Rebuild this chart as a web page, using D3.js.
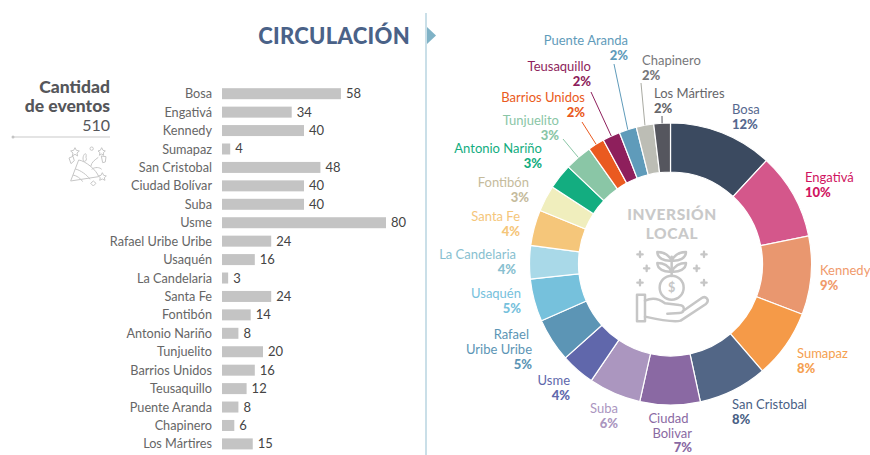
<!DOCTYPE html>
<html>
<head>
<meta charset="utf-8">
<script src="https://cdn.jsdelivr.net/npm/d3@7"></script>
<style>
html, body { margin: 0; padding: 0; background: #fff; }
svg { display: block; }
text { font-family: Lato, "Open Sans", sans-serif; }
</style>
</head>
<body>
<svg id="chart" width="870" height="455"></svg>
<script>
// bars: number of events per locality
const localities = ["Bosa", "Engativá", "Kennedy", "Sumapaz", "San Cristobal", "Ciudad Bolívar", "Suba", "Usme",
    "Rafael Uribe Uribe", "Usaquén", "La Candelaria", "Santa Fe", "Fontibón", "Antonio Nariño", "Tunjuelito",
    "Barrios Unidos", "Teusaquillo", "Puente Aranda", "Chapinero", "Los Mártires"];
const events = [58, 34, 40, 4, 48, 40, 40, 80, 24, 16, 3, 24, 14, 8, 20, 16, 12, 8, 6, 15];
const totalEvents = "510";

// donut: share of local investment, arc sizes
const shares = [11.9, 9.9, 9.0, 7.9, 7.9, 6.9, 6.0, 3.9, 5.0, 4.9, 3.8, 4.1, 3.0, 2.9, 3.1, 1.9, 2.0, 2.0, 2.0, 1.9];
const shareLabels = ["12%", "10%", "9%", "8%", "8%", "7%", "6%", "4%", "5%", "5%", "4%", "4%", "3%", "3%", "3%", "2%", "2%", "2%", "2%", "2%"];

const sliceColors = ["#3b4a60", "#d4578b", "#e9976f", "#f59a48", "#526686", "#8a69a3", "#ab96bf", "#6067ab",
    "#5c95b5", "#76c1dc", "#a9d9e8", "#f5c67a", "#f0eebd", "#13ad80", "#8ac6a6", "#ea5a20", "#8e1f5c", "#5f9bba", "#bcbdb5", "#55565e"];
const labelColors = ["#56688f", "#d0145f", "#f09a6c", "#f5a050", "#4a5f85", "#8a69a3", "#ab96bf", "#6067ab",
    "#5c95b5", "#76c1dc", "#88bfd0", "#f5c67a", "#c5bb9c", "#13ad80", "#8ac6a6", "#ea5a20", "#8e1f5c", "#5f9bba", "#77777a", "#66666a"];

// label placement: x, first baseline, anchor, text lines (some names wrap), optional leader end
const labelLayout = [
    { x: 732, y: 114, a: "start" },
    { x: 805, y: 182, a: "start" },
    { x: 820, y: 275, a: "start" },
    { x: 797, y: 358, a: "start" },
    { x: 732, y: 409, a: "start" },
    { x: 692, y: 423, a: "end", lines: ["Ciudad", "Bolivar"], shift: [-3.5, 0], step: 14.5 },
    { x: 618, y: 413, a: "end" },
    { x: 570, y: 385, a: "end" },
    { x: 532, y: 339, a: "end", lines: ["Rafael", "Uribe Uribe"], shift: [-3, 0] },
    { x: 521, y: 298, a: "end" },
    { x: 516, y: 259, a: "end" },
    { x: 520, y: 221, a: "end" },
    { x: 529, y: 187, a: "end" },
    { x: 542, y: 153, a: "end" },
    { x: 559, y: 125, a: "end", leader: [563, 139] },
    { x: 585, y: 102, a: "end", leader: [582, 122] },
    { x: 591, y: 71, a: "end", leader: [591, 92] },
    { x: 628, y: 45, a: "end", leader: [614, 64] },
    { x: 642, y: 65, a: "start", leader: [641, 83] },
    { x: 654, y: 98, a: "start", leader: [662, 116] }
];

const svg = d3.select("#chart");
const cx = 670.5, cy = 264, outerR = 141, innerR = 92;

// Title and divider
svg.append("line").attr("x1", 426).attr("x2", 426).attr("y1", 13).attr("y2", 455)
    .attr("stroke", "#b9d5e0").attr("stroke-width", 1.5);
svg.append("path").attr("d", "M427,27L436,35.5L427,44Z").attr("fill", "#7fb2c6");
svg.append("text").attr("x", 410).attr("y", 43.5).attr("text-anchor", "end")
    .attr("font-size", 22).attr("font-weight", 900).attr("letter-spacing", 0.3)
    .attr("fill", "#4a6288").text("CIRCULACIÓN");

// Total block
const total = svg.append("g").attr("text-anchor", "end");
total.append("text").attr("x", 110).attr("y", 93).attr("font-size", 17.5).attr("font-weight", 900).attr("fill", "#55565a").text("Cantidad");
total.append("text").attr("x", 110).attr("y", 112).attr("font-size", 17.5).attr("font-weight", 900).attr("fill", "#55565a").text("de eventos");
total.append("text").attr("x", 110).attr("y", 131).attr("font-size", 16).attr("fill", "#55565a").text(totalEvents);
svg.append("line").attr("x1", 13).attr("x2", 110).attr("y1", 137).attr("y2", 137).attr("stroke", "#c9c9c9").attr("stroke-width", 1);
svg.append("circle").attr("cx", 13).attr("cy", 137).attr("r", 1.5).attr("fill", "#c4c4c4");

// Party popper icon, drawn in 3x units
const popper = svg.append("g").attr("transform", "translate(0,70) scale(0.3333)")
    .attr("fill", "none").attr("stroke", "#c6c6c6").attr("stroke-width", 3).attr("stroke-linejoin", "round");
popper.append("path").attr("d", "M212,333L236,270C255,272 290,300 296,320Z");
popper.append("path").attr("d", "M226,297C240,300 262,315 270,328M219,315C230,317 242,325 248,335");
popper.append("path").attr("d", "M250,272C245,255 262,240 258,262C262,270 255,278 250,272M272,290C275,275 285,270 295,262M275,298C285,290 300,292 305,298");
popper.append("path").attr("d", "M225,233L229,241L238,243L231,249L233,258L225,253L217,258L219,249L212,243L221,241Z");
popper.append("path").attr("d", "M305,233L309,241L316,243L310,248L311,256L305,252L298,256L300,248L294,243L301,241Z");
popper.append("path").attr("d", "M307,308L311,316L319,318L313,323L315,331L307,327L299,331L301,323L295,318L303,316Z");
popper.append("path").attr("d", "M207,264L219,259L223,272L213,281Z");
popper.append("path").attr("d", "M304,258L318,260L316,276L308,278Z");
popper.append("circle").attr("cx", 275).attr("cy", 236).attr("r", 5);
popper.append("path").attr("d", "M280,333L288,340L280,348L272,340Z");

// Horizontal bars
const x = d3.scaleLinear().domain([0, 80]).range([222, 386]);
const y = d3.scalePoint().domain(localities).range([93.7, 443.9]);
const barH = 11;

const yAxis = svg.append("g").attr("transform", "translate(222,0)")
    .call(d3.axisLeft(y).tickSize(0).tickPadding(10));
yAxis.select(".domain").remove();
yAxis.selectAll("text").attr("font-family", "Lato, sans-serif").attr("font-size", 12.7).attr("fill", "#666");

svg.append("g").selectAll("rect").data(localities).join("rect")
    .attr("x", x(0))
    .attr("y", d => y(d) - barH / 2)
    .attr("width", (d, i) => x(events[i]) - x(0))
    .attr("height", barH)
    .attr("fill", "#c4c4c4");

svg.append("g").selectAll("text").data(localities).join("text")
    .attr("x", (d, i) => x(events[i]) + 5)
    .attr("y", d => y(d) + 4.5)
    .attr("font-size", 13)
    .attr("fill", "#444")
    .text((d, i) => events[i]);

// Donut
const pie = d3.pie().sort(null).value(d => d);
const arcs = pie(shares);
const arc = d3.arc().innerRadius(innerR).outerRadius(outerR);
const donut = svg.append("g").attr("transform", `translate(${cx},${cy})`);

donut.selectAll("path").data(arcs).join("path")
    .attr("d", arc)
    .attr("fill", (d, i) => sliceColors[i])
    .attr("stroke", "#fff")
    .attr("stroke-width", 1.2);

// Leader lines run from the rim of the slice to its label
labelLayout.forEach((l, i) => {
    if (!l.leader) return;
    const mid = (arcs[i].startAngle + arcs[i].endAngle) / 2;
    svg.append("line")
        .attr("x1", l.leader[0]).attr("y1", l.leader[1])
        .attr("x2", cx + Math.sin(mid) * outerR).attr("y2", cy - Math.cos(mid) * outerR)
        .attr("stroke", sliceColors[i] === "#bcbdb5" ? "#a9aaa2" : sliceColors[i])
        .attr("stroke-width", 1);
});

// Slice labels
labelLayout.forEach((l, i) => {
    const lines = l.lines || [localities[i]];
    const step = l.step || 15;
    const g = svg.append("g").attr("text-anchor", l.a).attr("fill", labelColors[i]);
    lines.forEach((t, k) => {
        g.append("text")
            .attr("x", l.x + (l.shift ? l.shift[k] : 0))
            .attr("y", l.y + k * step)
            .attr("font-size", 13)
            .text(t);
    });
    g.append("text")
        .attr("x", l.x)
        .attr("y", l.y + lines.length * step)
        .attr("font-size", 13)
        .attr("font-weight", 900)
        .text(shareLabels[i]);
});

// Centre of the donut
svg.append("text").attr("x", 672).attr("y", 220).attr("text-anchor", "middle")
    .attr("font-size", 15.5).attr("font-weight", 900).attr("letter-spacing", 0.6).attr("fill", "#c9c9c9").text("INVERSIÓN");
svg.append("text").attr("x", 672).attr("y", 239).attr("text-anchor", "middle")
    .attr("font-size", 15.5).attr("font-weight", 900).attr("letter-spacing", 0.6).attr("fill", "#c9c9c9").text("LOCAL");

// Plant and hand icon, drawn in 3x units
const icon = svg.append("g").attr("transform", "translate(610,190) scale(0.3333)")
    .attr("fill", "none").attr("stroke", "#c6c6c6").attr("stroke-width", 7.5).attr("stroke-linejoin", "round").attr("stroke-linecap", "round");
icon.append("circle").attr("cx", 185).attr("cy", 293).attr("r", 36);
icon.append("path").attr("d", "M185,258V200");
icon.append("path").attr("d", "M185,212C175,192 158,186 142,186C142,204 162,214 185,212M185,212C195,192 212,186 228,186C228,204 208,214 185,212");
icon.append("path").attr("d", "M185,245C175,225 158,219 142,219C142,237 162,247 185,245M185,245C195,225 212,219 228,219C228,237 208,247 185,245");
icon.append("rect").attr("x", 81).attr("y", 314).attr("width", 24).attr("height", 80);
icon.append("path").attr("d", "M105,332C130,320 150,328 165,340L208,345C226,346 226,368 208,369L172,371M218,364L272,326C288,314 300,330 288,342L212,392C190,398 150,390 105,380");
icon.append("text").attr("x", 185).attr("y", 306).attr("text-anchor", "middle")
    .attr("font-size", 38).attr("font-weight", 700).attr("fill", "#c6c6c6").attr("stroke", "none").text("$");

const sparkles = icon.append("g").attr("stroke-width", 7);
[[90, 193], [282, 193], [110, 235], [260, 235], [90, 278], [282, 278]].forEach(p => {
    sparkles.append("path").attr("d", `M${p[0] - 8},${p[1]}H${p[0] + 8}M${p[0]},${p[1] - 8}V${p[1] + 8}`);
});
</script>
</body>
</html>
